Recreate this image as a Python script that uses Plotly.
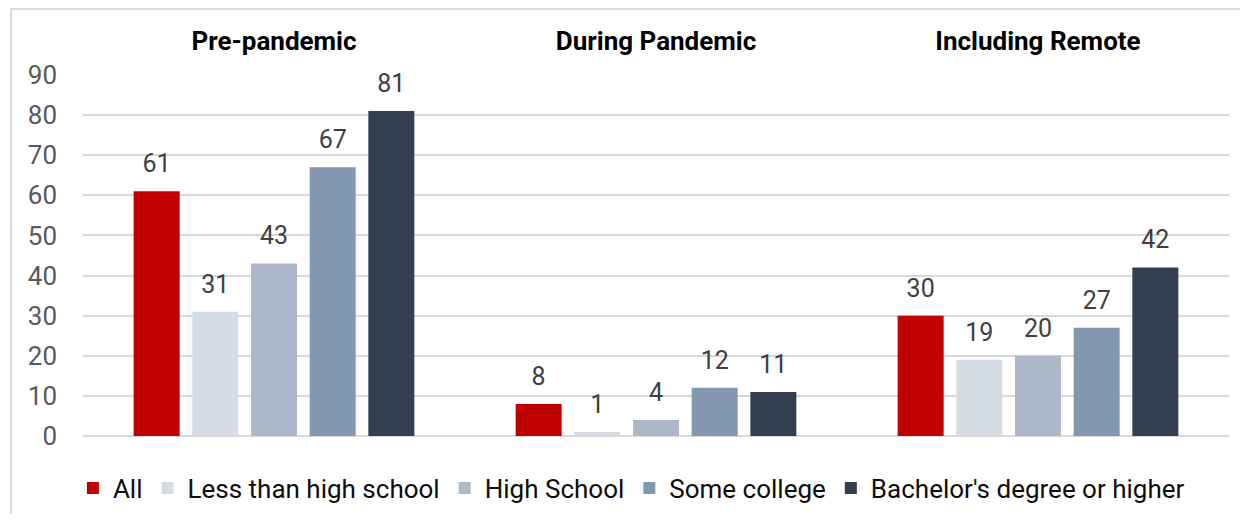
import plotly.graph_objects as go

categories = ["Pre-pandemic", "During Pandemic", "Including Remote"]
series_names = ["All", "Less than high school", "High School", "Some college",
                "Bachelor's degree or higher"]
values_all = [61, 8, 30]
values_lths = [31, 1, 19]
values_hs = [43, 4, 20]
values_sc = [67, 12, 27]
values_ba = [81, 11, 42]
series_values = [values_all, values_lths, values_hs, values_sc, values_ba]
colors = ["#C00000", "#D6DCE4", "#ADB9CA", "#8497B0", "#333F50"]
y_ticks = [0, 10, 20, 30, 40, 50, 60, 70, 80, 90]

BARGAP = 0.232
FONT = "Roboto"

fig = go.Figure()
for name, vals, col in zip(series_names, series_values, colors):
    fig.add_trace(go.Bar(
        x=categories, y=vals, name=name, marker=dict(color=col, line=dict(width=0)),
        offsetgroup=name, alignmentgroup="a",
    ))
for name, vals in zip(series_names, series_values):
    fig.add_trace(go.Scatter(
        x=categories, y=vals, mode="markers+text", text=[str(v) for v in vals],
        textposition="top center", textfont=dict(family=FONT, size=25, color="#404040"),
        marker=dict(size=19, opacity=0), showlegend=False, hoverinfo="skip",
        offsetgroup=name, alignmentgroup="a", cliponaxis=False,
    ))

fig.update_layout(
    width=1232, height=506,
    margin=dict(l=75, r=11, t=67, b=78),
    paper_bgcolor="white", plot_bgcolor="white",
    barmode="group", bargap=BARGAP, bargroupgap=0.216,
    scattermode="group", scattergap=BARGAP,
    font=dict(family=FONT, size=20, color="#000000"),
    showlegend=True,
    legend=dict(orientation="h", xref="container", x=0.506, xanchor="center",
                yref="container", y=0.0514, yanchor="middle",
                font=dict(family=FONT, size=26, color="#0d0d0d"),
                traceorder="normal", itemwidth=30),
    xaxis=dict(side="top", tickvals=categories, ticktext=[f"<b>{c}</b>" for c in categories],
               tickfont=dict(family=FONT, size=26, color="#000000"),
               showgrid=False, showline=False, zeroline=False, ticks="",
               ticklabelstandoff=19),
    yaxis=dict(range=[0, 90], tickvals=y_ticks, showgrid=True, gridcolor="#D9D9D9",
               gridwidth=2, zeroline=True, zerolinecolor="#D9D9D9", zerolinewidth=2,
               tickfont=dict(family=FONT, size=26, color="#595959"), ticks="",
               ticklabelstandoff=25, showline=False),
    shapes=[dict(type="rect", xref="paper", yref="paper",
                 x0=-0.0628, x1=1.1, y0=-0.4, y1=1.1828,
                 line=dict(color="#D9D9D9", width=2), fillcolor="rgba(0,0,0,0)",
                 layer="below")],
)

fig.write_html("out.html")
